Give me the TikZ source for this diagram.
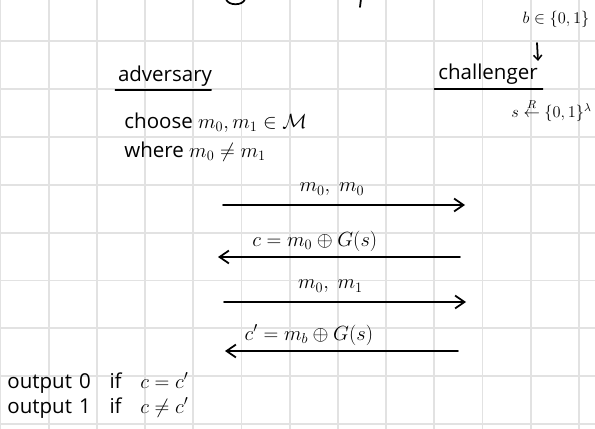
\documentclass[tikz,border=0pt]{standalone}
\usepackage{fix-cm}
\usepackage{amsmath}
\usepackage{fontspec}
\setmainfont{Open Sans}
\usetikzlibrary{arrows.meta,positioning}
\definecolor{gridgray}{RGB}{226,226,226}

\begin{document}
\begin{tikzpicture}[x=0.03cm,y=-0.03cm,
  hand/.style={font=\fontsize{17.5}{20}\selectfont,inner sep=1pt},
  small hand/.style={font=\fontsize{14}{16}\selectfont,inner sep=1pt},
  pen/.style={line width=1.5pt,line cap=round},
  msg/.style={pen,-{Straight Barb[length=8pt,width=11pt,line width=1.5pt]}},
  underl/.style={pen},
]
\useasboundingbox (0,0) rectangle (595,429);
% grid paper
\foreach \k in {0,...,12}{
  \draw[gridgray,line width=1.6pt] (0.5+48.2*\k,0) -- ++(0,429);
}
\foreach \j in {0,...,8}{
  \draw[gridgray,line width=1.6pt] (0,41+47.9*\j) -- ++(595,0);
}
% bits of the title cut off at the top
\draw[pen] (226,-1) .. controls (228,6) and (243,6) .. (245,-1);
\draw[pen] (361,-1) -- (360,7);
% challenger side
\node[small hand] (bset) at (556,19) {$b\in\{0,1\}$};
\coordinate (btop) at (537,43);
\coordinate (bbot) at (538,61);
\draw[pen,-{Straight Barb[length=4pt,width=7pt,line width=1.3pt]}] (btop) -- (bbot);
\node[hand] (chal) at (488,74) {challenger};
\draw[underl] ([xshift=-2pt,yshift=-3pt]chal.south west) -- ([xshift=3pt,yshift=-3pt]chal.south east);
\node[small hand,anchor=west] (seed) at (510,110) {$s\overset{R}{\leftarrow}\{0,1\}^{\lambda}$};
% adversary side
\node[hand] (adv) at (165,76) {adversary};
\draw[underl] ([xshift=-1pt,yshift=-2pt]adv.south west) -- ([xshift=-2pt,yshift=-2pt]adv.south east);
\node[hand,anchor=west] (choose) at (123,123) {choose $m_0, m_1\in\mathcal{M}$};
\node[hand,anchor=west] (where) at (123,152) {where $m_0\neq m_1$};
% messages
\coordinate (a1l) at (223,205); \coordinate (a1r) at (465,205);
\coordinate (a2l) at (218,257); \coordinate (a2r) at (460,257);
\coordinate (a3l) at (224,302); \coordinate (a3r) at (466,302);
\coordinate (a4l) at (225,351); \coordinate (a4r) at (458,351);
\draw[msg] (a1l) -- node[hand,pos=0.45,above=6pt] (m1) {$m_0,\ m_0$} (a1r);
\draw[msg] (a2r) -- node[hand,pos=0.6,above=3pt] (m2) {$c=m_0\oplus G(s)$} (a2l);
\draw[msg] (a3l) -- node[hand,pos=0.44,above=6pt] (m3) {$m_0,\ m_1$} (a3r);
\draw[msg] (a4r) -- node[hand,pos=0.64,above=3pt] (m4) {$c'=m_b\oplus G(s)$} (a4l);
% adversary output
\node[hand,anchor=west] (out0) at (6,383) {output\hspace{6pt}0\hspace{16pt}if\hspace{16pt}$c=c'$};
\node[hand,anchor=west] (out1) at (6,408) {output\hspace{6pt}1\hspace{16pt}if\hspace{16pt}$c\neq c'$};
\end{tikzpicture}
\end{document}
